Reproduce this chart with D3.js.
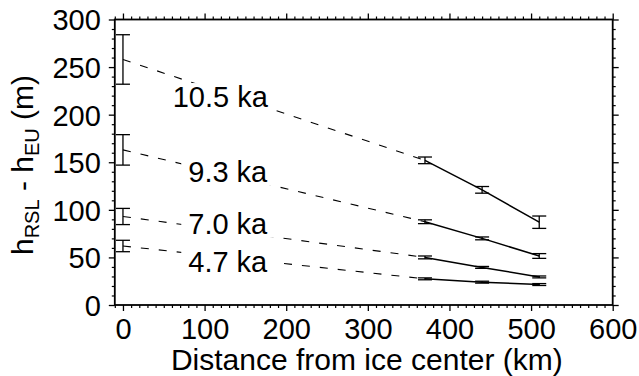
<!DOCTYPE html>
<html>
<head>
<meta charset="utf-8">
<script src="https://cdn.jsdelivr.net/npm/d3@7"></script>
<style>
  body { margin: 0; background: #fff; }
  svg text { font-family: "Liberation Sans", Arial, Helvetica, sans-serif; fill: #000; }
</style>
</head>
<body>
<div id="chart"></div>
<script>
// distance of the sites from the ice center (km)
const distances = [0, 370, 440, 510];
const ages = ['10.5 ka', '9.3 ka', '7.0 ka', '4.7 ka'];

// hRSL - hEU (m) and half error bars for each age
const h105 = [258, 152, 121, 87];
const e105 = [26, 3.5, 3.5, 6.5];
const h93 = [163, 87.5, 70, 51.5];
const e93 = [16, 2, 1.5, 2.5];
const h70 = [93, 50, 39.5, 29.5];
const e70 = [8.5, 1.5, 1, 1];
const h47 = [62, 27.5, 24, 21.5];
const e47 = [6, 1, 1, 1];

const xTicks = [0, 100, 200, 300, 400, 500, 600];
const yTicks = [0, 50, 100, 150, 200, 250, 300];

const series = [
  { age: ages[0], h: h105, e: e105, lx: 61, ly: 208 },
  { age: ages[1], h: h93, e: e93, lx: 80, ly: 129.5 },
  { age: ages[2], h: h70, e: e70, lx: 80, ly: 75 },
  { age: ages[3], h: h47, e: e47, lx: 80, ly: 35 },
];

const W = 639, H = 376;
const margin = { top: 19.5, right: 26.3, bottom: 71, left: 114.8 };
const width = W - margin.left - margin.right;
const height = H - margin.top - margin.bottom;

const svg = d3.select('#chart').append('svg')
  .attr('width', W).attr('height', H);
const g = svg.append('g')
  .attr('transform', `translate(${margin.left},${margin.top})`);

const x = d3.scaleLinear().domain([-10, 600]).range([0, width]);
const y = d3.scaleLinear().domain([0, 300]).range([height, 0]);

const fs = 29;

// axes: majors with labels, minors every 10
const minorX = d3.range(-10, 601, 10).filter(v => v % 100 !== 0);
const minorY = d3.range(0, 301, 10).filter(v => v % 50 !== 0);

function axisPair(axisFn, scale, major, minor, transform, labels) {
  const a = g.append('g').attr('transform', transform)
    .call(axisFn(scale).tickValues(major).tickSize(6).tickPadding(4)
      .tickFormat(labels ? d3.format('d') : ''));
  a.select('.domain').remove();
  a.selectAll('.tick line').attr('stroke-width', 1.3);
  a.selectAll('.tick text').style('font-size', fs + 'px');
  const b = g.append('g').attr('transform', transform)
    .call(axisFn(scale).tickValues(minor).tickSize(3).tickFormat(''));
  b.select('.domain').remove();
  b.selectAll('.tick line').attr('stroke-width', 1.2);
  return a;
}

axisPair(d3.axisBottom, x, xTicks, minorX, `translate(0,${height})`, true)
  .selectAll('.tick text').attr('dy', '0.82em');
axisPair(d3.axisTop, x, xTicks, minorX, 'translate(0,0)', false);
axisPair(d3.axisLeft, y, yTicks, minorY, 'translate(0,0)', true)
  .selectAll('.tick text').attr('x', -14).attr('dy', '0.36em');
axisPair(d3.axisRight, y, yTicks, minorY, `translate(${width},0)`, false);

g.append('rect')
  .attr('width', width).attr('height', height)
  .attr('fill', 'none').attr('stroke', '#000').attr('stroke-width', 1.8);

// dashed link from the center value to the first site, solid between sites
series.forEach(s => {
  const pts = distances.map((d, i) => [x(d), y(s.h[i])]);
  g.append('path')
    .attr('d', d3.line()(pts.slice(0, 2)))
    .attr('fill', 'none').attr('stroke', '#000')
    .attr('stroke-width', 1.1).attr('stroke-dasharray', '8,10');
  g.append('path')
    .attr('d', d3.line()(pts.slice(1)))
    .attr('fill', 'none').attr('stroke', '#000').attr('stroke-width', 1.5);

  const eb = g.append('g').attr('stroke', '#000').attr('stroke-width', 1.3);
  distances.forEach((d, i) => {
    const cx = x(d), y1 = y(s.h[i] + s.e[i]), y2 = y(s.h[i] - s.e[i]);
    eb.append('line').attr('x1', cx).attr('x2', cx).attr('y1', y1).attr('y2', y2);
    eb.append('line').attr('x1', cx - 7).attr('x2', cx + 7).attr('y1', y1).attr('y2', y1);
    eb.append('line').attr('x1', cx - 7).attr('x2', cx + 7).attr('y1', y2).attr('y2', y2);
  });
});

// age labels with white boxes that break the dashed lines
series.forEach(s => {
  const t = g.append('text')
    .attr('x', x(s.lx)).attr('y', y(s.ly))
    .style('font-size', fs + 'px')
    .text(s.age);
  const bb = t.node().getBBox();
  g.insert('rect', function () { return t.node(); })
    .attr('x', bb.x - 7).attr('y', bb.y + 2)
    .attr('width', bb.width + 14).attr('height', bb.height - 4)
    .attr('fill', '#fff');
});

// axis titles
svg.append('text')
  .attr('x', margin.left + x(300) - 1).attr('y', 370)
  .attr('text-anchor', 'middle')
  .style('font-size', '30px')
  .text('Distance from ice center (km)');

const yt = svg.append('text')
  .attr('transform', 'translate(33,165) rotate(-90)')
  .attr('text-anchor', 'middle')
  .style('font-size', '30px');
yt.append('tspan').text('h');
yt.append('tspan').attr('dy', 6).style('font-size', '20px').text('RSL');
yt.append('tspan').attr('dy', -6).text(' - h');
yt.append('tspan').attr('dy', 6).style('font-size', '20px').text('EU');
yt.append('tspan').attr('dy', -6).text(' (m)');
</script>
</body>
</html>
